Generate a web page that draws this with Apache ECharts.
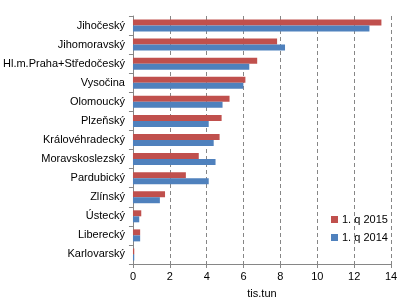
<!DOCTYPE html>
<html>
<head>
<meta charset="utf-8">
<script src="https://cdn.jsdelivr.net/npm/echarts@6/dist/echarts.min.js"></script>
<style>
  html, body { margin: 0; padding: 0; background: #fff; }
  #main { width: 409px; height: 304px; }
</style>
</head>
<body>
<div id="main"></div>
<script>
// kraje, odshora dolu
const regions = ['Jihočeský', 'Jihomoravský', 'Hl.m.Praha+Středočeský', 'Vysočina', 'Olomoucký',
  'Plzeňský', 'Královéhradecký', 'Moravskoslezský', 'Pardubický', 'Zlínský', 'Ústecký',
  'Liberecký', 'Karlovarský'];
const q2015 = [13.48, 7.82, 6.74, 6.10, 5.24, 4.81, 4.70, 3.57, 2.87, 1.74, 0.45, 0.39, 0.07];
const q2014 = [12.83, 8.25, 6.31, 5.99, 4.86, 4.11, 4.38, 4.48, 4.11, 1.46, 0.34, 0.39, 0.07];
const xTicks = [0, 2, 4, 6, 8, 10, 12, 14];

const chart = echarts.init(document.getElementById('main'));
const font = 'Liberation Sans';
const option = {
  animation: false,
  textStyle: { fontFamily: font },
  grid: { left: 131, right: 18, top: 16, bottom: 37, containLabel: false },
  legend: {
    orient: 'vertical',
    left: 326,
    top: 209,
    itemWidth: 7,
    itemHeight: 7,
    itemGap: 7,
    icon: 'rect',
    textStyle: { fontFamily: font, fontSize: 11, color: '#000', padding: [0, 0, 0, -1] },
    data: ['1. q 2015', '1. q 2014']
  },
  xAxis: {
    type: 'value',
    min: xTicks[0],
    max: xTicks[xTicks.length - 1],
    interval: 2,
    name: 'tis.tun',
    nameLocation: 'middle',
    nameGap: 24,
    nameTextStyle: { fontFamily: font, fontSize: 11, color: '#000' },
    axisLine: { show: true, lineStyle: { color: '#868686' } },
    axisTick: { show: true, length: 4, lineStyle: { color: '#868686' } },
    axisLabel: { fontFamily: font, fontSize: 11, color: '#000', margin: 7 },
    splitLine: { show: true, lineStyle: { color: '#868686', type: [4, 3] } }
  },
  yAxis: {
    type: 'category',
    data: regions,
    inverse: true,
    axisLine: { show: true, lineStyle: { color: '#868686' } },
    axisTick: { show: true, length: 4, lineStyle: { color: '#868686' } },
    axisLabel: { fontFamily: font, fontSize: 11, color: '#000', margin: 8 }
  },
  series: [
    {
      name: '1. q 2015',
      type: 'bar',
      data: q2015,
      barWidth: 6,
      barGap: '0%',
      itemStyle: { color: '#C0504D' }
    },
    {
      name: '1. q 2014',
      type: 'bar',
      data: q2014,
      barWidth: 6,
      barGap: '0%',
      itemStyle: { color: '#4F81BD' }
    }
  ]
};
chart.setOption(option);
</script>
</body>
</html>
